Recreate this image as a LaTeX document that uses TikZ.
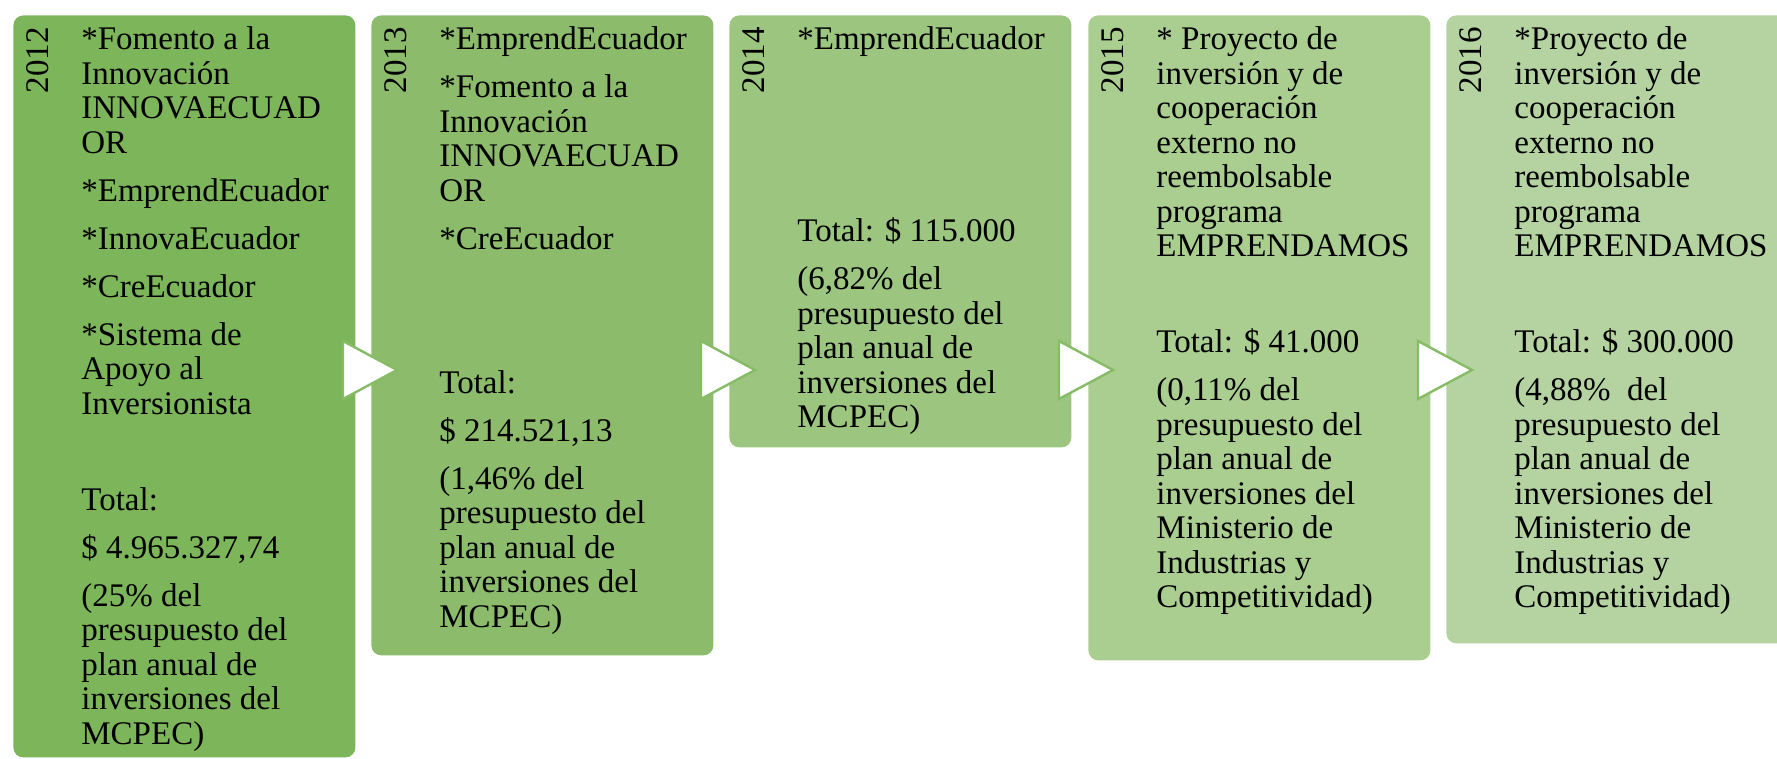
\documentclass[tikz,border=0pt]{standalone}
\usepackage{fontspec}
\setmainfont{Liberation Serif}
\definecolor{g2012}{HTML}{7DB65A}
\definecolor{g2013}{HTML}{8BBB6B}
\definecolor{g2014}{HTML}{9CC57F}
\definecolor{g2015}{HTML}{AACD90}
\definecolor{g2016}{HTML}{B4D3A1}
\definecolor{gline}{HTML}{86BC66}
\tikzstyle{card}=[rectangle, rounded corners=5pt, inner sep=0pt, anchor=north west, minimum width=171pt]
\tikzstyle{year}=[rotate=90, anchor=base east, inner sep=0pt, font=\fontsize{16.5}{17.25}\selectfont]
\tikzstyle{body}=[anchor=base west, inner sep=0pt, font=\fontsize{16.5}{17.25}\selectfont]
\tikzstyle{pointer}=[draw=gline, fill=white, line width=1.2pt, line join=miter]
\providecommand{\np}{\\[6.75pt]}
\providecommand{\txt}[1]{\parbox[t]{150pt}{\raggedright #1}}

\begin{document}
\begin{tikzpicture}[x=0.5pt, y=-0.5pt]
\useasboundingbox (0,0) rectangle (1777,759);
\clip (0,0) rectangle (1777,759);
% boxes
\node[card, fill=g2012, minimum height=371pt] (b2012) at (13,15) {};
\node[card, fill=g2013, minimum height=320pt] (b2013) at (371,15) {};
\node[card, fill=g2014, minimum height=216pt] (b2014) at (729,15) {};
\node[card, fill=g2015, minimum height=322.5pt] (b2015) at (1088,15) {};
\node[card, fill=g2016, minimum height=314pt] (b2016) at (1446,15) {};
% pointers between the boxes
\foreach \x in {355,713,1071,1430}
  \draw[pointer] (\x-12,341) -- (\x+42,370) -- (\x-12,399) -- cycle;
% years
\foreach \y in {2012,2013,2014,2015,2016}
  \node[year] (y\y) at ([xshift=17.5pt, yshift=-6pt]b\y.north west) {\y};
% texts
\node[body] (t2012) at ([xshift=34pt, yshift=-17.5pt]b2012.north west) {\txt{%
*Fomento a la\\ Innovación\\ INNOVAECUAD\\ OR\np
*EmprendEcuador\np
*InnovaEcuador\np
*CreEcuador\np
*Sistema de\\ Apoyo al\\ Inversionista\\[30.75pt]
Total:\np
\$ 4.965.327,74\np
(25\% del\\ presupuesto del\\ plan anual de\\ inversiones del\\ MCPEC)}};
\node[body] (t2013) at ([xshift=34pt, yshift=-17.5pt]b2013.north west) {\txt{%
*EmprendEcuador\np
*Fomento a la\\ Innovación\\ INNOVAECUAD\\ OR\np
*CreEcuador\\[54.75pt]
Total:\np
\$ 214.521,13\np
(1,46\% del\\ presupuesto del\\ plan anual de\\ inversiones del\\ MCPEC)}};
\node[body] (t2014) at ([xshift=34pt, yshift=-17.5pt]b2014.north west) {\txt{%
*EmprendEcuador\\[78.75pt]
Total: \$ 115.000\np
(6,82\% del\\ presupuesto del\\ plan anual de\\ inversiones del\\ MCPEC)}};
\node[body] (t2015) at ([xshift=34pt, yshift=-17.5pt]b2015.north west) {\txt{%
* Proyecto de\\ inversión y de\\ cooperación\\ externo no\\ reembolsable\\ programa\\ EMPRENDAMOS\\[30.75pt]
Total: \$ 41.000\np
(0,11\% del\\ presupuesto del\\ plan anual de\\ inversiones del\\ Ministerio de\\ Industrias y\\ Competitividad)}};
\node[body] (t2016) at ([xshift=34pt, yshift=-17.5pt]b2016.north west) {\txt{%
*Proyecto de\\ inversión y de\\ cooperación\\ externo no\\ reembolsable\\ programa\\ EMPRENDAMOS\\[30.75pt]
Total: \$ 300.000\np
(4,88\%\ \ del\\ presupuesto del\\ plan anual de\\ inversiones del\\ Ministerio de\\ Industrias y\\ Competitividad)}};
\end{tikzpicture}
\end{document}
